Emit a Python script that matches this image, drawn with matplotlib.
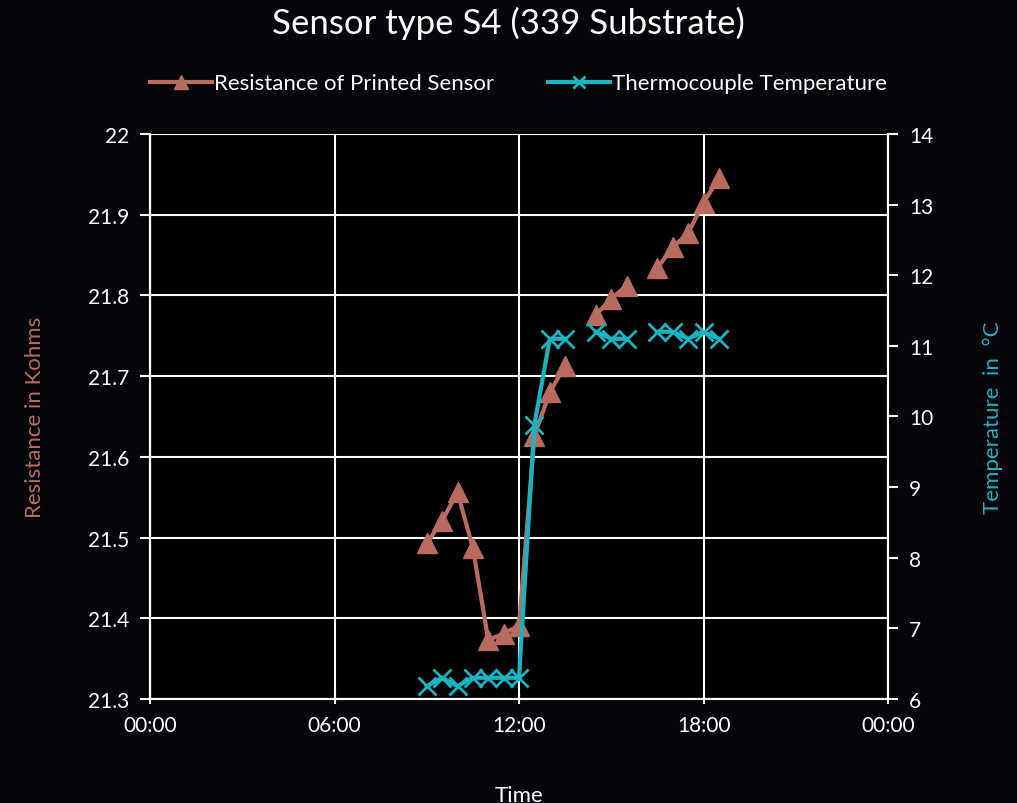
import numpy as np
import matplotlib.pyplot as plt

# time of reading, hours of the day
hours = [9.0, 9.5, 10.0, 10.5, 11.0, 11.5, 12.0, 12.5, 13.0, 13.5, 14.0,
         14.5, 15.0, 15.5, 16.0, 16.5, 17.0, 17.5, 18.0, 18.5]
# nan = no reading (line breaks there)
resistance = [21.493, 21.521, 21.556, 21.487, 21.373, 21.381, 21.391, 21.626,
              21.680, 21.713, np.nan, 21.776, 21.796, 21.812, np.nan, 21.834,
              21.860, 21.877, 21.915, 21.945]
temperature = [6.18, 6.30, 6.18, 6.30, 6.30, 6.30, 6.30, 9.88, 11.10, 11.10,
               np.nan, 11.20, 11.10, 11.10, np.nan, 11.20, 11.20, 11.10, 11.20, 11.10]

xticks = [0, 6, 12, 18, 24]
xlabels = ['00:00', '06:00', '12:00', '18:00', '00:00']
res_ticks = [21.3, 21.4, 21.5, 21.6, 21.7, 21.8, 21.9, 22]
res_labels = ['21.3', '21.4', '21.5', '21.6', '21.7', '21.8', '21.9', '22']
temp_ticks = [6, 7, 8, 9, 10, 11, 12, 13, 14]

brown = '#b86b5e'
cyan = '#19b3c2'

plt.rcParams['font.family'] = ['Lato', 'DejaVu Sans']

fig = plt.figure(figsize=(10.17, 8.04), dpi=100)
fig.patch.set_facecolor('#050408')
ax = fig.add_axes([0.1475, 0.1294, 0.7257, 0.7027])
ax.set_facecolor('black')
ax2 = ax.twinx()

l1, = ax.plot(hours, resistance, color=brown, lw=3, marker='^', ms=14,
              mec=brown, label='Resistance of Printed Sensor', zorder=3)
l2, = ax2.plot(hours, temperature, color=cyan, lw=3, marker='x', ms=13,
               mew=2, label='Thermocouple Temperature', zorder=3)

ax.set_xlim(0, 24)
ax.set_ylim(21.3, 22)
ax2.set_ylim(6, 14)
ax.set_xticks(xticks)
ax.set_xticklabels(xlabels)
ax.set_yticks(res_ticks)
ax.set_yticklabels(res_labels)
ax2.set_yticks(temp_ticks)

ax.grid(True, color='white', lw=1.5)
ax.set_axisbelow(True)
for a in (ax, ax2):
    for s in a.spines.values():
        s.set_color('white')
        s.set_linewidth(1.5)
    a.spines['top'].set_visible(False)
ax.tick_params(axis='y', colors='white', labelsize=15, length=7, width=1.5, direction='out', pad=8)
ax.tick_params(axis='x', colors='white', labelsize=15, length=7, width=1.5, direction='inout', pad=8)
ax2.tick_params(axis='y', colors='white', labelsize=15, length=7, width=1.5, direction='out', pad=8)

ax.set_ylabel('Resistance in Kohms', color=brown, fontsize=16, labelpad=31)
ax2.set_ylabel('Temperature  in  °C', color=cyan, fontsize=16, labelpad=36)
ax.set_xlabel('Time', color='white', fontsize=16, labelpad=36)

fig.suptitle('Sensor type S4 (339 Substrate)', color='white', fontsize=25, y=0.992)
fig.legend(handles=[l1, l2], loc='center', bbox_to_anchor=(0.51, 0.895), ncol=2,
           frameon=False, fontsize=16, labelcolor='white', handlelength=2.8,
           handletextpad=0.1, columnspacing=2.4, markerscale=0.7)

fig.savefig('out.png', dpi=100, facecolor=fig.get_facecolor())
